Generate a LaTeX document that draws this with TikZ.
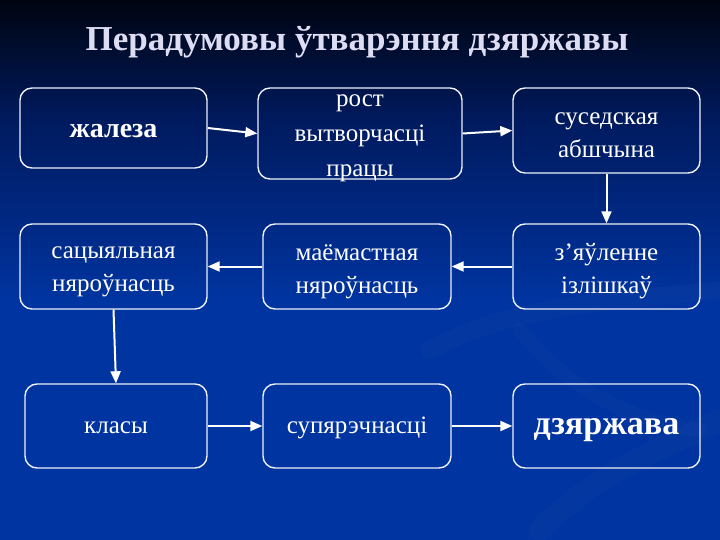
\documentclass[tikz,border=0pt]{standalone}
\usepackage{fontspec}
\setmainfont{Liberation Serif}
\usetikzlibrary{arrows.meta}
\definecolor{bgtop}{HTML}{000410}
\definecolor{bgmid}{HTML}{001A5E}
\definecolor{bgbot}{HTML}{0034A0}
\definecolor{titlecol}{HTML}{DCDDF2}
\definecolor{boxline}{HTML}{EEF0FA}
\tikzset{
  box/.style={draw=boxline, line width=1.4pt, rounded corners=12pt, inner sep=0pt},
  txt/.style={text=white, align=center, font=\fontsize{25}{33}\selectfont},
  conn/.style={draw=white, line width=2pt, -{Triangle[length=12pt,width=10pt]}},
  streak/.style={line cap=round, draw=white, opacity=0.02}
}
\begin{document}
\begin{tikzpicture}[x=1pt,y=-1pt]
\useasboundingbox (0,0) rectangle (720,540);
\shade[top color=bgtop, bottom color=bgmid] (0,0) rectangle (720,120);
\shade[top color=bgmid, bottom color=bgbot] (0,119.5) rectangle (720,300);
\fill[bgbot] (0,299.5) rectangle (720,540);
% faint swirl streaks
\draw[streak, line width=18pt] (430,350) .. controls (520,300) and (640,300) .. (720,290);
\draw[streak, line width=14pt] (520,330) .. controls (560,380) and (620,420) .. (700,430);
\draw[streak, line width=22pt] (540,530) .. controls (600,470) and (660,450) .. (720,420);
\node[text=titlecol, font=\fontsize{35}{40}\selectfont\bfseries] (title) at (357,42) {Перадумовы ўтварэння дзяржавы};

\node[box, minimum width=187pt, minimum height=80pt] (b1) at (113.5,128) {};
\node[box, minimum width=204pt, minimum height=91pt] (b2) at (360,133.5) {};
\node[box, minimum width=187pt, minimum height=85pt] (b3) at (606.5,130.5) {};
\node[box, minimum width=187pt, minimum height=85pt] (b4) at (606.5,266.5) {};
\node[box, minimum width=188pt, minimum height=85pt] (b5) at (357,266.5) {};
\node[box, minimum width=187pt, minimum height=85pt] (b6) at (113.5,266.5) {};
\node[box, minimum width=182pt, minimum height=84pt] (b7) at (116,426) {};
\node[box, minimum width=188pt, minimum height=84pt] (b8) at (357,426) {};
\node[box, minimum width=187pt, minimum height=84pt] (b9) at (606.5,426) {};

\node[txt, font=\fontsize{28}{33}\selectfont\bfseries] (t1) at ([yshift=-3pt]b1.center) {жалеза};
\node[txt, font=\fontsize{25}{35}\selectfont] (t2) at ([yshift=-5pt]b2.center) {рост\\вытворчасці\\працы};
\node[txt] (t3) at ([yshift=-5pt]b3.center) {суседская\\абшчына};
\node[txt] (t4) at ([yshift=-5pt]b4.center) {з’яўленне\\ізлішкаў};
\node[txt] (t5) at ([yshift=-5pt]b5.center) {маёмастная\\няроўнасць};
\node[txt] (t6) at ([yshift=-5pt]b6.center) {сацыяльная\\няроўнасць};
\node[txt] (t7) at ([yshift=-2pt]b7.center) {класы};
\node[txt] (t8) at ([yshift=-2pt]b8.center) {супярэчнасці};
\node[txt, font=\fontsize{34}{38}\selectfont\bfseries] (t9) at ([yshift=-4pt]b9.center) {дзяржава};

\draw[conn] (b1.east) -- (b2.west);
\draw[conn] (b2.east) -- (b3.west);
\draw[conn] (b3.south) -- (b4.north);
\draw[conn] (b4.west) -- (b5.east);
\draw[conn] (b5.west) -- (b6.east);
\draw[conn] (b6.south) -- (b7.north);
\draw[conn] (b7.east) -- (b8.west);
\draw[conn] (b8.east) -- (b9.west);
\end{tikzpicture}
\end{document}
